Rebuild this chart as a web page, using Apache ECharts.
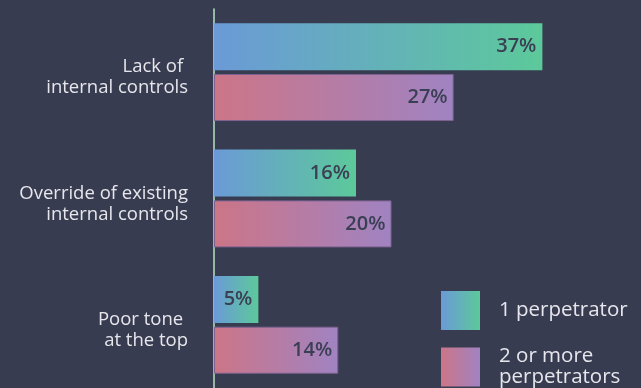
<!DOCTYPE html>
<html>
<head>
<meta charset="utf-8">
<style>
html,body{margin:0;padding:0;background:#383c50;}
#chart{width:641px;height:388px;}
</style>
<script src="https://cdn.jsdelivr.net/npm/echarts@6/dist/echarts.min.js"></script>
</head>
<body>
<div id="chart"></div>
<script>
const categories = ["Lack of \ninternal controls", "Override of existing\ninternal controls", "Poor tone \nat the top"];
const seriesNames = ["1 perpetrator", "2 or more\nperpetrators"];
const onePerpetrator = [37, 16, 5];
const twoOrMore = [27, 20, 14];

function grad(a, b) {
  return new echarts.graphic.LinearGradient(0, 0, 1, 0, [
    {offset: 0, color: a}, {offset: 1, color: b}
  ]);
}
const FONT = 'Open Sans';
const chart = echarts.init(document.getElementById('chart'), null, {renderer: 'canvas'});
const labelStyle = {
  show: true, position: 'insideRight', distance: 6,
  formatter: '{c}%', color: '#3b3f54', fontSize: 20, fontWeight: 600,
  fontFamily: FONT
};
chart.setOption({
  backgroundColor: '#383c50',
  animation: false,
  grid: {left: 214, right: 72, top: 9, bottom: -7, containLabel: false},
  xAxis: {type: 'value', min: 0, max: 40, show: false},
  yAxis: {
    type: 'category', data: categories, inverse: true,
    axisLine: {show: true, lineStyle: {color: '#b6e3c4', width: 1.5}},
    axisTick: {show: false},
    axisLabel: {
      margin: 26, align: 'right',
      formatter: function (v) {
        return '{s|}\n' + v.split('\n').map(function (l) { return '{t|' + l + '}'; }).join('\n');
      },
      rich: {
        s: {lineHeight: 11, fontSize: 1},
        t: {color: '#e6e6ec', fontSize: 18.5, lineHeight: 21, fontFamily: FONT, align: 'right'}
      }
    }
  },
  legend: {
    orient: 'vertical', left: 441, top: 291, height: 150, padding: 0, itemWidth: 39, itemHeight: 39, itemGap: 16,
    icon: 'rect',
    itemStyle: {borderWidth: 0},
    textStyle: {color: '#e6e6ec', fontSize: 20.5, lineHeight: 21, fontFamily: FONT, padding: [0, 0, 0, 14]},
    data: seriesNames
  },
  series: [
    {
      name: seriesNames[0], type: 'bar', data: onePerpetrator, barWidth: 47, barGap: '8%',
      itemStyle: {color: grad('#6b9ad7', '#5cc99a')},
      label: labelStyle
    },
    {
      name: seriesNames[1], type: 'bar', data: twoOrMore, barWidth: 47,
      itemStyle: {color: grad('#cc7587', '#a083c2'), borderColor: '#7d6290', borderWidth: 1},
      label: labelStyle
    }
  ]
});
</script>
</body>
</html>
